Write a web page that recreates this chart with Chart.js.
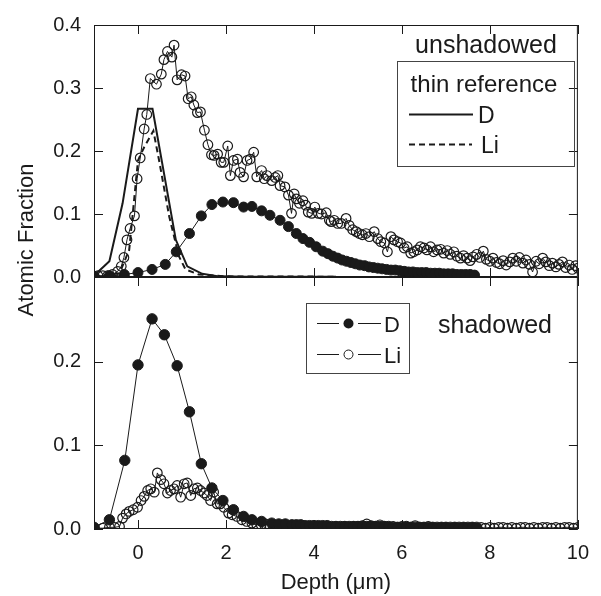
<!DOCTYPE html>
<html>
<head>
<meta charset="utf-8">
<script src="https://cdn.jsdelivr.net/npm/chart.js@4"></script>
<style>
  html, body { margin: 0; padding: 0; background: #fff; }
  canvas { display: block; }
</style>
</head>
<body>
<canvas id="depthChart" width="601" height="596"></canvas>
<script>
// depth profiles, unshadowed (top panel) and shadowed (bottom panel)
const xTicks = [0, 2, 4, 6, 8, 10];
const yTopTicks = [0, 0.1, 0.2, 0.3, 0.4];
const yBotTicks = [0, 0.1, 0.2];

// thin reference (lines only)
const dThinX = [-1.0, -0.65, -0.35, 0.0, 0.33, 0.86, 1.12, 1.46, 1.84, 2.5, 4.5];
const dThinY = [0.002, 0.025, 0.117, 0.267, 0.267, 0.059, 0.017, 0.005, 0.001, 0.0005, 0.0005];
const liThinX = [-1.0, -0.42, -0.2, 0.0, 0.14, 0.35, 0.48, 0.71, 0.93, 1.08, 1.38, 2.0, 4.5];
const liThinY = [0.001, 0.006, 0.043, 0.185, 0.206, 0.232, 0.185, 0.096, 0.033, 0.012, 0.004, 0.001, 0.0005];

// unshadowed D (filled)
const dTopX = [-1.0, -0.65, -0.31, 0.0, 0.32, 0.62, 0.87, 1.17, 1.44, 1.68, 1.93, 2.17, 2.4, 2.59, 2.81, 3.0,
  3.23, 3.42, 3.6, 3.75, 3.9, 4.05, 4.2, 4.32, 4.43, 4.54, 4.64, 4.74, 4.84, 4.94, 5.04, 5.15, 5.25, 5.35,
  5.45, 5.55, 5.65, 5.75, 5.85, 5.95, 6.05, 6.15, 6.25, 6.35, 6.45, 6.55, 6.65, 6.75, 6.85, 6.95, 7.05,
  7.15, 7.25, 7.35, 7.45, 7.55, 7.65];
const dTopY = [0.001, 0.002, 0.004, 0.007, 0.012, 0.020, 0.040, 0.069, 0.097, 0.115, 0.119, 0.118, 0.111, 0.112, 0.105, 0.098,
  0.090, 0.080, 0.069, 0.061, 0.055, 0.048, 0.041, 0.037, 0.033, 0.030, 0.027, 0.025, 0.023, 0.021, 0.019, 0.018, 0.016, 0.015,
  0.014, 0.013, 0.012, 0.011, 0.011, 0.010, 0.009, 0.008, 0.008, 0.007, 0.007, 0.007, 0.006, 0.006, 0.006, 0.005, 0.005,
  0.005, 0.004, 0.004, 0.004, 0.004, 0.003];

// unshadowed Li (open)
const liTopX = [-1.0, -0.91, -0.8, -0.69, -0.58, -0.46, -0.38, -0.32, -0.25, -0.18, -0.08, -0.02, 0.05, 0.14, 0.2, 0.28,
  0.42, 0.53, 0.59, 0.67, 0.77, 0.82, 0.89, 0.99, 1.07, 1.14, 1.21, 1.27, 1.35, 1.42, 1.51, 1.59, 1.67, 1.73,
  1.81, 1.89, 1.95, 2.04, 2.1, 2.17, 2.26, 2.32, 2.4, 2.48, 2.55, 2.63, 2.7, 2.81, 2.87, 2.93, 3.04, 3.12, 3.18,
  3.23, 3.34, 3.42, 3.49, 3.55, 3.6, 3.67, 3.75, 3.81, 3.87, 3.95, 4.02, 4.1, 4.17, 4.28, 4.35, 4.39, 4.46, 4.54,
  4.62, 4.73, 4.8, 4.88, 4.96, 5.03, 5.1, 5.18, 5.26, 5.37, 5.45, 5.52, 5.6, 5.67, 5.75, 5.82, 5.9, 5.97, 6.05,
  6.12, 6.2, 6.27, 6.35, 6.42, 6.5, 6.57, 6.65, 6.72, 6.8, 6.88, 6.95, 7.03, 7.1, 7.18, 7.25, 7.33, 7.4, 7.48,
  7.55, 7.62, 7.7, 7.77, 7.85, 7.92, 8.0, 8.07, 8.15, 8.22, 8.3, 8.37, 8.45, 8.52, 8.6, 8.67, 8.75, 8.82, 8.9,
  8.97, 9.05, 9.12, 9.2, 9.27, 9.35, 9.42, 9.5, 9.57, 9.65, 9.72, 9.8, 9.87, 9.95, 10.0];
const liTopY = [0.001, 0.002, 0.002, 0.002, 0.004, 0.009, 0.017, 0.031, 0.059, 0.077, 0.097, 0.156, 0.189, 0.235, 0.258, 0.315,
  0.306, 0.322, 0.345, 0.358, 0.349, 0.368, 0.313, 0.321, 0.319, 0.283, 0.286, 0.273, 0.261, 0.262, 0.233, 0.210, 0.194, 0.193,
  0.195, 0.182, 0.182, 0.208, 0.161, 0.185, 0.187, 0.166, 0.159, 0.185, 0.187, 0.198, 0.159, 0.169, 0.156, 0.161, 0.153, 0.158, 0.161,
  0.145, 0.143, 0.130, 0.101, 0.132, 0.124, 0.117, 0.121, 0.114, 0.103, 0.101, 0.111, 0.101, 0.100, 0.102, 0.090, 0.088, 0.090, 0.085,
  0.085, 0.093, 0.082, 0.075, 0.072, 0.069, 0.067, 0.069, 0.064, 0.072, 0.061, 0.056, 0.054, 0.040, 0.064, 0.059, 0.056, 0.054, 0.046,
  0.048, 0.038, 0.040, 0.043, 0.048, 0.046, 0.043, 0.048, 0.040, 0.043, 0.044, 0.038, 0.042, 0.036, 0.040, 0.033, 0.030, 0.034, 0.030,
  0.026, 0.032, 0.036, 0.031, 0.041, 0.028, 0.025, 0.030, 0.023, 0.021, 0.026, 0.019, 0.024, 0.030, 0.025, 0.031, 0.022, 0.027, 0.020,
  0.008, 0.025, 0.021, 0.030, 0.024, 0.018, 0.022, 0.016, 0.020, 0.024, 0.015, 0.019, 0.012, 0.018, 0.014];

// shadowed D (filled)
const dBotX = [-1.0, -0.65, -0.3, 0.0, 0.32, 0.6, 0.89, 1.17, 1.44, 1.68, 1.93, 2.17, 2.4, 2.59, 2.81, 3.04, 3.2, 3.35,
  3.5, 3.6, 3.7, 3.8, 3.9, 4.0, 4.1, 4.2, 4.3, 4.4, 4.5, 4.6, 4.7, 4.8, 4.9, 5.0, 5.1, 5.2, 5.3, 5.4, 5.5, 5.6,
  5.7, 5.8, 5.9, 6.0, 6.1, 6.2, 6.3, 6.4, 6.5, 6.6, 6.7, 6.8, 6.9, 7.0, 7.1, 7.2, 7.3, 7.4, 7.5, 7.6, 7.7];
const dBotY = [0.002, 0.011, 0.082, 0.196, 0.251, 0.232, 0.195, 0.140, 0.078, 0.049, 0.034, 0.023, 0.015, 0.011, 0.009, 0.007, 0.006, 0.006,
  0.005, 0.005, 0.005, 0.004, 0.004, 0.004, 0.004, 0.004, 0.004, 0.003, 0.003, 0.003, 0.003, 0.003, 0.003, 0.003, 0.003, 0.003, 0.003, 0.003, 0.003, 0.003,
  0.003, 0.002, 0.002, 0.002, 0.003, 0.002, 0.002, 0.002, 0.002, 0.002, 0.002, 0.002, 0.002, 0.002, 0.002, 0.002, 0.002, 0.002, 0.002, 0.002, 0.002];

// shadowed Li (open)
const liBotX = [-0.99, -0.8, -0.65, -0.53, -0.42, -0.35, -0.27, -0.2, -0.11, -0.01, 0.07, 0.14, 0.22, 0.29, 0.37, 0.44,
  0.52, 0.59, 0.67, 0.74, 0.82, 0.89, 0.97, 1.05, 1.12, 1.2, 1.27, 1.35, 1.42, 1.5, 1.57, 1.65, 1.72, 1.8, 1.87,
  1.95, 2.06, 2.14, 2.25, 2.36, 2.47, 2.59, 2.7, 2.8, 2.9, 3.0, 3.1, 3.2, 3.3, 3.4, 3.5, 3.6, 3.7, 3.8, 3.9, 4.0,
  4.1, 4.2, 4.3, 4.4, 4.5, 4.6, 4.7, 4.8, 4.9, 5.0, 5.1, 5.2, 5.3, 5.4, 5.5, 5.6, 5.7, 5.8, 5.9, 6.0, 6.1, 6.2,
  6.3, 6.4, 6.5, 6.6, 6.7, 6.8, 6.9, 7.0, 7.1, 7.2, 7.3, 7.4, 7.5, 7.6, 7.7, 7.8, 7.9, 8.0, 8.1, 8.2, 8.3, 8.4,
  8.5, 8.6, 8.7, 8.8, 8.9, 9.0, 9.1, 9.2, 9.3, 9.4, 9.5, 9.6, 9.7, 9.8, 9.9, 10.0];
const liBotY = [0.001, 0.001, 0.002, 0.002, 0.003, 0.013, 0.018, 0.021, 0.023, 0.026, 0.034, 0.039, 0.046, 0.048, 0.044, 0.067,
  0.059, 0.054, 0.043, 0.046, 0.048, 0.052, 0.038, 0.054, 0.055, 0.040, 0.048, 0.049, 0.046, 0.043, 0.040, 0.034, 0.044, 0.030, 0.030,
  0.026, 0.019, 0.017, 0.015, 0.011, 0.009, 0.007, 0.005, 0.005, 0.006, 0.004, 0.005, 0.004, 0.005, 0.003, 0.004, 0.003, 0.004, 0.003, 0.003, 0.004,
  0.002, 0.003, 0.003, 0.002, 0.003, 0.002, 0.003, 0.002, 0.003, 0.003, 0.004, 0.006, 0.004, 0.003, 0.005, 0.003, 0.002, 0.003, 0.002, 0.003, 0.002, 0.002,
  0.004, 0.002, 0.002, 0.003, 0.002, 0.001, 0.002, 0.002, 0.001, 0.002, 0.001, 0.002, 0.001, 0.002, 0.001, 0.002, 0.001, 0.002, 0.001, 0.002, 0.002, 0.001,
  0.002, 0.001, 0.002, 0.002, 0.001, 0.002, 0.001, 0.002, 0.002, 0.001, 0.002, 0.001, 0.002, 0.002, 0.001, 0.002];

const INK = "#1a1a1a";
const FONT = "'Liberation Sans', Arial, sans-serif";

function pts(xs, ys) {
  return xs.map((x, i) => ({ x: x, y: ys[i] }));
}

function markers(xs, ys, axis, filled, radius) {
  return {
    data: pts(xs, ys),
    yAxisID: axis,
    showLine: true,
    borderColor: INK,
    borderWidth: 1,
    pointRadius: radius,
    pointBorderWidth: filled ? 1 : 1.2,
    pointBorderColor: INK,
    pointBackgroundColor: filled ? INK : "rgba(255,255,255,0)",
  };
}

// frame and inward ticks for each panel
const framePlugin = {
  id: "frame",
  beforeDatasetsDraw(chart) {
    const ctx = chart.ctx;
    const x = chart.scales.x;
    const panels = [[chart.scales.yTop, yTopTicks], [chart.scales.yBot, yBotTicks]];
    ctx.save();
    ctx.strokeStyle = INK;
    ctx.lineWidth = 1;
    panels.forEach(([y, ticks]) => {
      ctx.strokeRect(x.left + 0.5, y.top + 0.5, x.right - x.left - 1, y.bottom - y.top - 1);
      ctx.beginPath();
      xTicks.forEach(v => {
        const px = Math.round(x.getPixelForValue(v)) + 0.5;
        ctx.moveTo(px, y.bottom);
        ctx.lineTo(px, y.bottom - 9);
        ctx.moveTo(px, y.top);
        ctx.lineTo(px, y.top + 9);
      });
      ticks.forEach(v => {
        const py = Math.round(y.getPixelForValue(v)) + 0.5;
        ctx.moveTo(x.left, py);
        ctx.lineTo(x.left + 9, py);
        ctx.moveTo(x.right, py);
        ctx.lineTo(x.right - 9, py);
      });
      ctx.stroke();
    });
    ctx.restore();
  },
};

// panel labels, legends and the shared y title
const notesPlugin = {
  id: "notes",
  afterDraw(chart) {
    const ctx = chart.ctx;
    ctx.save();
    ctx.fillStyle = INK;
    ctx.strokeStyle = INK;

    ctx.save();
    ctx.translate(27, 240);
    ctx.rotate(-Math.PI / 2);
    ctx.font = "22px " + FONT;
    ctx.textAlign = "center";
    ctx.textBaseline = "middle";
    ctx.fillText("Atomic Fraction", 0, 0);
    ctx.restore();

    ctx.textBaseline = "alphabetic";
    ctx.textAlign = "center";
    ctx.font = "25px " + FONT;
    ctx.fillText("unshadowed", 486, 53);
    ctx.fillText("shadowed", 495, 333);

    // top legend
    ctx.lineWidth = 1;
    ctx.strokeStyle = "#444";
    ctx.strokeRect(397.5, 61.5, 177, 105);
    ctx.strokeRect(306.5, 303.5, 103, 70);
    ctx.strokeStyle = INK;
    ctx.font = "24px " + FONT;
    ctx.fillText("thin reference", 484, 92);
    ctx.textAlign = "left";
    ctx.font = "23px " + FONT;
    ctx.lineWidth = 2;
    ctx.beginPath();
    ctx.moveTo(409, 114.5);
    ctx.lineTo(473, 114.5);
    ctx.stroke();
    ctx.fillText("D", 478, 123);
    ctx.setLineDash([6, 4]);
    ctx.beginPath();
    ctx.moveTo(409, 144.5);
    ctx.lineTo(472, 144.5);
    ctx.stroke();
    ctx.setLineDash([]);
    ctx.fillText("Li", 481, 153);

    // bottom legend
    ctx.font = "22px " + FONT;
    ctx.lineWidth = 1;
    [[323.5, true, "D", 332], [354.5, false, "Li", 363]].forEach(([ly, filled, label, base]) => {
      ctx.beginPath();
      ctx.moveTo(317, ly);
      ctx.lineTo(339, ly);
      ctx.moveTo(358, ly);
      ctx.lineTo(381, ly);
      ctx.stroke();
      ctx.beginPath();
      ctx.arc(348.5, ly, filled ? 5 : 4.5, 0, Math.PI * 2);
      if (filled) ctx.fill(); else ctx.stroke();
      ctx.fillText(label, 384, base);
    });
    ctx.restore();
  },
};

const tickFont = { family: FONT, size: 20 };

new Chart(document.getElementById("depthChart"), {
  type: "scatter",
  data: {
    datasets: [
      {
        data: pts(dThinX, dThinY), yAxisID: "yTop", showLine: true,
        borderColor: INK, borderWidth: 2, pointRadius: 0,
      },
      {
        data: pts(liThinX, liThinY), yAxisID: "yTop", showLine: true,
        borderColor: INK, borderWidth: 2, borderDash: [6, 4], pointRadius: 0,
      },
      markers(dTopX, dTopY, "yTop", true, 5),
      markers(liTopX, liTopY, "yTop", false, 4.8),
      markers(dBotX, dBotY, "yBot", true, 5.2),
      markers(liBotX, liBotY, "yBot", false, 4.8),
    ],
  },
  options: {
    responsive: false,
    animation: false,
    devicePixelRatio: 1,
    layout: { padding: { top: 20, right: 18, left: 0, bottom: 0 } },
    elements: { line: { tension: 0 } },
    plugins: { legend: { display: false }, tooltip: { enabled: false } },
    scales: {
      x: {
        type: "linear",
        min: -1,
        max: 10,
        grid: { display: false, drawTicks: false },
        border: { display: false },
        afterBuildTicks: s => { s.ticks = xTicks.map(v => ({ value: v })); },
        afterFit: s => { s.height = 67; },
        ticks: { font: tickFont, color: INK, padding: 12, maxRotation: 0, callback: v => String(v) },
        title: { display: true, text: "Depth (μm)", font: { family: FONT, size: 22 }, color: INK, padding: 0 },
      },
      yBot: {
        type: "linear",
        position: "left",
        stack: "panels",
        stackWeight: 1,
        min: 0,
        max: 0.301,
        grid: { display: false, drawTicks: false },
        border: { display: false },
        afterBuildTicks: s => { s.ticks = yBotTicks.map(v => ({ value: v })); },
        afterFit: s => { s.width = 94; },
        ticks: { font: tickFont, color: INK, padding: 13, callback: v => v.toFixed(1) },
      },
      yTop: {
        type: "linear",
        position: "left",
        stack: "panels",
        stackWeight: 1,
        min: 0,
        max: 0.4,
        grid: { display: false, drawTicks: false },
        border: { display: false },
        afterBuildTicks: s => { s.ticks = yTopTicks.map(v => ({ value: v })); },
        afterFit: s => { s.width = 94; },
        ticks: { font: tickFont, color: INK, padding: 13, callback: v => v.toFixed(1) },
      },
    },
  },
  plugins: [framePlugin, notesPlugin],
});
</script>
</body>
</html>
